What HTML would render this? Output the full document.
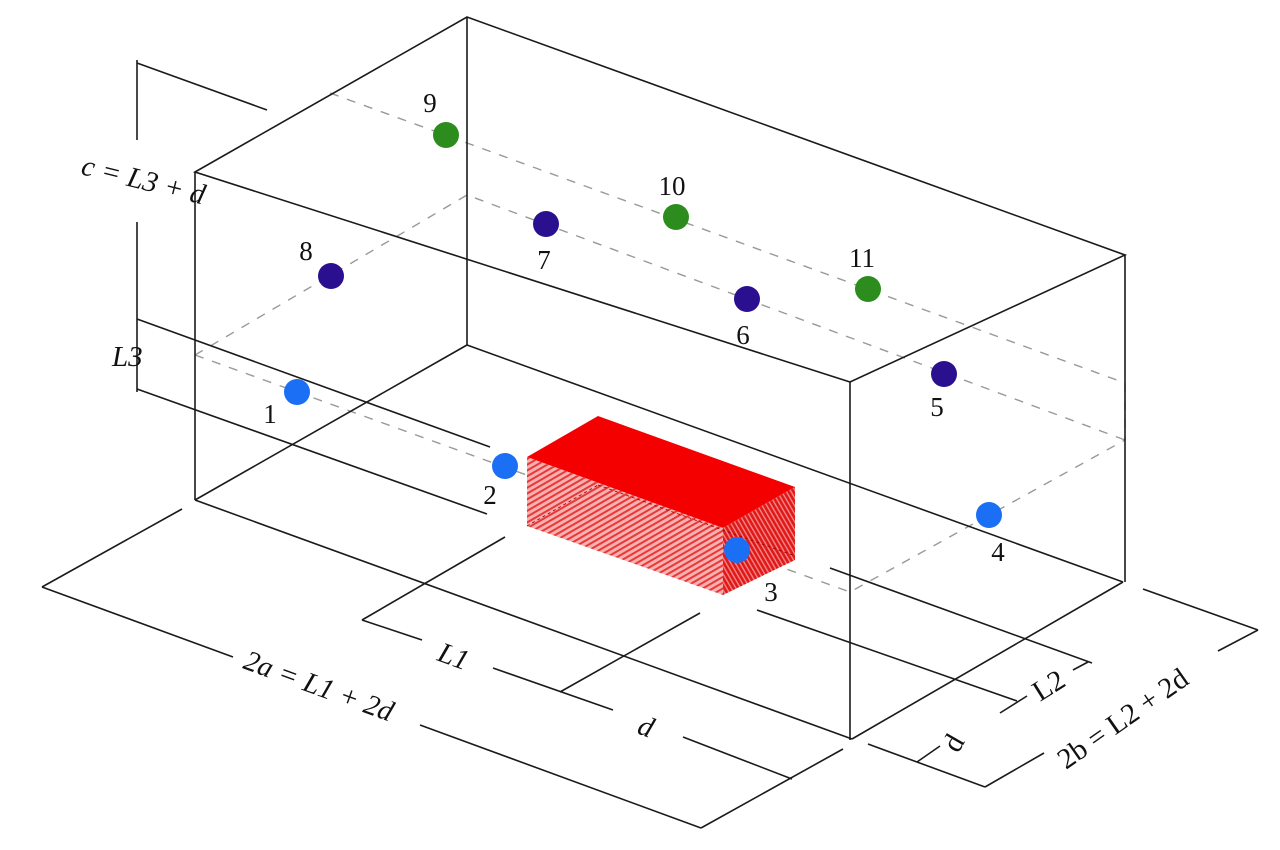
<!DOCTYPE html>
<html><head><meta charset="utf-8"><style>html,body{margin:0;padding:0;background:#fff}svg{display:block}</style></head>
<body>
<svg width="1280" height="850" viewBox="0 0 1280 850" xmlns="http://www.w3.org/2000/svg">
<defs>
<pattern id="h1" width="5" height="5" patternUnits="userSpaceOnUse" patternTransform="rotate(60)">
<rect width="5" height="5" fill="#f8b0b0"/><rect width="2" height="5" fill="#e83838"/></pattern>
<pattern id="h2" width="4" height="4" patternUnits="userSpaceOnUse" patternTransform="rotate(-30)">
<rect width="4" height="4" fill="#f08080"/><rect width="2.5" height="4" fill="#e01818"/></pattern>
</defs>
<g stroke="#999" stroke-width="1.4" stroke-dasharray="9,9" fill="none">
<polyline points="330,93 1125,383"/>
<polyline points="195,355 467,195 1125,440"/>
<polyline points="195,355 850,592 1125,440"/>
<line x1="1125" y1="383" x2="1125" y2="440"/>
</g>
<g stroke="#1a1a1a" stroke-width="1.6" fill="none">
<polygon points="195,172 467,17 1125,255 850,382"/>
<line x1="195" y1="172" x2="195" y2="500"/>
<line x1="850" y1="382" x2="850" y2="740"/>
<line x1="1125" y1="255" x2="1125" y2="582"/>
<line x1="467" y1="17" x2="467" y2="345"/>
<line x1="195" y1="500" x2="852" y2="739"/>
<line x1="852" y1="739" x2="1123" y2="582"/>
<line x1="467" y1="345" x2="195" y2="500"/>
<line x1="467" y1="345" x2="1123" y2="582"/>
<line x1="137" y1="63" x2="267" y2="110"/>
<line x1="137" y1="60" x2="137" y2="140"/>
<line x1="137" y1="222" x2="137" y2="392"/>
<line x1="137" y1="319" x2="490" y2="447"/>
<line x1="137" y1="389" x2="487" y2="514"/>
<line x1="830" y1="568" x2="1092" y2="663"/>
<line x1="757" y1="610" x2="1017" y2="701"/>
<line x1="42" y1="587" x2="182" y2="509"/>
<line x1="42" y1="587" x2="233" y2="657"/>
<line x1="420" y1="725" x2="701" y2="828"/>
<line x1="362" y1="620" x2="505" y2="537"/>
<line x1="362" y1="620" x2="422" y2="640"/>
<line x1="493" y1="668" x2="613" y2="710"/>
<line x1="560" y1="692" x2="700" y2="613"/>
<line x1="683" y1="737" x2="792" y2="779"/>
<line x1="701" y1="828" x2="843" y2="749"/>
<line x1="1143" y1="589" x2="1258" y2="630"/>
<line x1="1258" y1="630" x2="1218" y2="651"/>
<line x1="1044" y1="753" x2="985" y2="787"/>
<line x1="868" y1="744" x2="985" y2="787"/>
<line x1="917" y1="762" x2="940" y2="746"/>
<line x1="1000" y1="713" x2="1027" y2="696"/>
<line x1="1073" y1="670" x2="1088" y2="662"/>
</g>
<polygon points="527,457 598,416 795,487 723,528" fill="#f40000"/>
<polygon points="527,457 723,528 723,595 527,526" fill="url(#h1)"/>
<polygon points="723,528 795,487 795,560 723,595" fill="url(#h2)"/>
<g stroke="#900" stroke-width="0.8" stroke-dasharray="3,3" fill="none">
<line x1="527" y1="526" x2="598" y2="485"/><line x1="598" y1="485" x2="795" y2="556"/></g>
<g>
<circle cx="297" cy="392" r="13" fill="#1a6ff5"/>
<circle cx="505" cy="466" r="13" fill="#1a6ff5"/>
<circle cx="737" cy="550" r="13" fill="#1a6ff5"/>
<circle cx="989" cy="515" r="13" fill="#1a6ff5"/>
<circle cx="944" cy="374" r="13" fill="#2a108f"/>
<circle cx="747" cy="299" r="13" fill="#2a108f"/>
<circle cx="546" cy="224" r="13" fill="#2a108f"/>
<circle cx="331" cy="276" r="13" fill="#2a108f"/>
<circle cx="446" cy="135" r="13" fill="#2c8c1e"/>
<circle cx="676" cy="217" r="13" fill="#2c8c1e"/>
<circle cx="868" cy="289" r="13" fill="#2c8c1e"/>
</g>
<g font-family="Liberation Serif, serif" font-size="27" fill="#111" text-anchor="middle">
<text x="270" y="423">1</text>
<text x="490" y="504">2</text>
<text x="771" y="601">3</text>
<text x="998" y="561">4</text>
<text x="937" y="416">5</text>
<text x="743" y="344">6</text>
<text x="544" y="269">7</text>
<text x="306" y="260">8</text>
<text x="430" y="112">9</text>
<text x="672" y="195">10</text>
<text x="862" y="267">11</text>
</g>
<g font-family="Liberation Serif, serif" font-size="29" fill="#111" font-style="italic">
<text x="80" y="174" transform="rotate(14 80 174)">c = L3 + d</text>
<text x="112" y="366">L3</text>
<text x="242" y="668" transform="rotate(20 242 668)">2a = L1 + 2d</text>
<text x="436" y="660" transform="rotate(20 436 660)">L1</text>
<text x="636" y="733" transform="rotate(20 636 733)">d</text>
</g>
<g font-family="Liberation Serif, serif" font-size="29" fill="#111">
<text x="1040" y="702" transform="rotate(-32 1040 702)">L2</text>
<text x="958" y="754" transform="rotate(-60 958 754)">d</text>
<text x="1066" y="770" transform="rotate(-35 1066 770)">2b = L2 + 2d</text>
</g>
</svg>
</body></html>
